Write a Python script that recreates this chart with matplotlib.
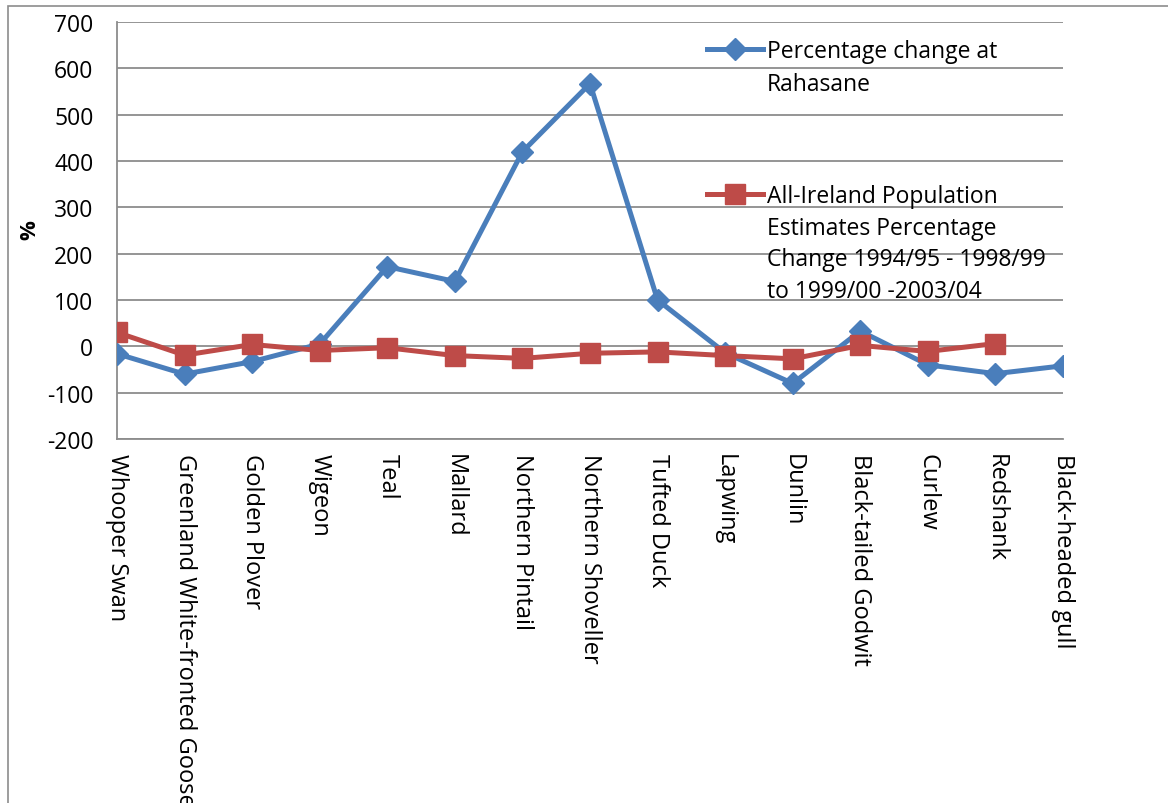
import matplotlib
matplotlib.use('Agg')
import matplotlib.pyplot as plt
from matplotlib.patches import Rectangle
import numpy as np

# especes d'oiseaux
species = ["Whooper Swan", "Greenland White-fronted Goose", "Golden Plover", "Wigeon",
           "Teal", "Mallard", "Northern Pintail", "Northern Shoveller", "Tufted Duck",
           "Lapwing", "Dunlin", "Black-tailed Godwit", "Curlew", "Redshank",
           "Black-headed gull"]

rahasane = [-16, -60, -33, 5, 172, 140, 420, 567, 100, -14, -80, 33, -40, -59, -42]
all_ireland = [30, -19, 4, -9, -3, -20, -26, -15, -12, -20, -27, 2, -11, 6, np.nan]

label_rahasane = "Percentage change at\nRahasane"
label_ireland = ("All-Ireland Population\nEstimates Percentage\n"
                 "Change 1994/95 - 1998/99\nto 1999/00 -2003/04")

yticks = list(range(-200, 701, 100))

blue = '#4A7EBB'
red = '#BE4B48'
font = 'Open Sans'

W, H = 1168, 804
fig = plt.figure(figsize=(W / 100, H / 100), dpi=100)

# cadre du graphique
fig.patches.append(Rectangle((8 / W, -0.1), 1.2, 1 - 7 / H + 0.1, transform=fig.transFigure,
                             fill=False, edgecolor='#8c8c8c', linewidth=1.2))

ax = fig.add_axes([117 / W, 1 - 440 / H, (1063 - 117) / W, (440 - 23) / H])

x = np.arange(len(species))
ax.plot(x, rahasane, color=blue, linewidth=3.6, marker='D', markersize=11, zorder=3)
ax.plot(x, all_ireland, color=red, linewidth=3.6, marker='s', markersize=14.5, zorder=4)

ax.set_xlim(0, len(species) - 1)
ax.set_ylim(-200, 700)
ax.set_yticks(yticks)
ax.set_yticklabels([str(v) for v in yticks], fontsize=16.5, fontfamily=font)
ax.yaxis.grid(True, color='#8c8c8c', linewidth=1.3)
ax.set_axisbelow(True)
ax.tick_params(axis='y', length=0, pad=17)
ax.tick_params(axis='x', length=0, pad=10)

ax.set_xticks(x)
ax.set_xticklabels(species, rotation=270, fontsize=17, fontfamily=font, va='top')

fig.text(30 / W, 1 - 230 / H, '%', fontsize=16, fontweight='bold', rotation=90,
         ha='center', va='center', fontfamily=font)

for side in ['top', 'right']:
    ax.spines[side].set_visible(False)
ax.spines['left'].set_color('#8c8c8c')
ax.spines['bottom'].set_color('#8c8c8c')
ax.spines['left'].set_linewidth(1.3)
ax.spines['bottom'].set_linewidth(1.3)

# legende dessinee a la main (symbole aligne sur la premiere ligne)
tr = fig.transFigure
fig.add_artist(plt.Line2D([707 / W, 763 / W], [1 - 50 / H, 1 - 50 / H], transform=tr,
                          color=blue, linewidth=3.6))
fig.add_artist(plt.Line2D([735 / W], [1 - 50 / H], transform=tr, color=blue,
                          marker='D', markersize=11))
fig.text(767 / W, 1 - 40 / H, label_rahasane, fontsize=16.5, fontfamily=font,
         va='top', ha='left', linespacing=1.5)

fig.add_artist(plt.Line2D([707 / W, 763 / W], [1 - 195 / H, 1 - 195 / H], transform=tr,
                          color=red, linewidth=3.6))
fig.add_artist(plt.Line2D([735 / W], [1 - 195 / H], transform=tr, color=red,
                          marker='s', markersize=14.5))
fig.text(767 / W, 1 - 185 / H, label_ireland, fontsize=16.5, fontfamily=font,
         va='top', ha='left', linespacing=1.43)

plt.savefig("out.png", dpi=100)
plt.close()
